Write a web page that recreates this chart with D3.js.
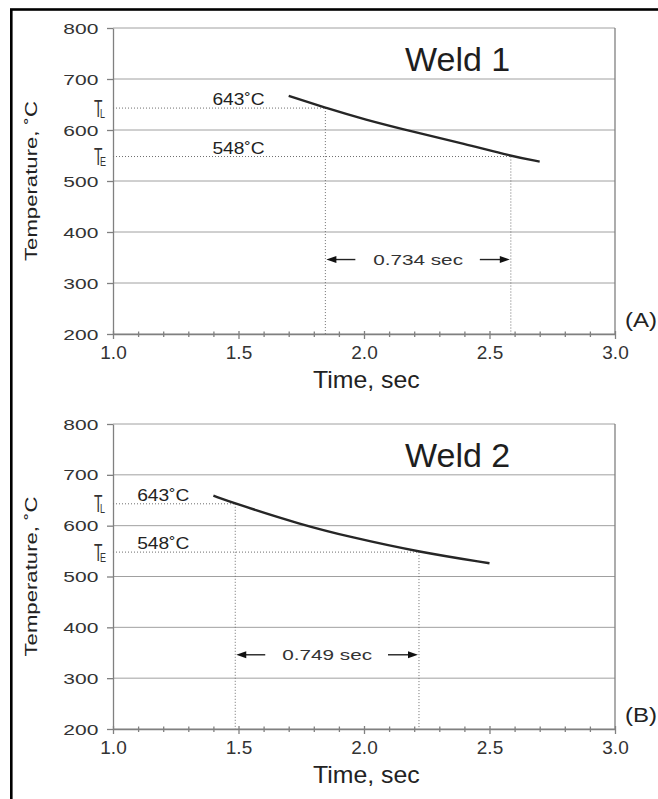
<!DOCTYPE html>
<html><head><meta charset="utf-8">
<script src="https://cdn.jsdelivr.net/npm/d3@7"></script>
<style>
body{margin:0;background:#fff}
svg{display:block}
text{font-family:"Liberation Sans",Arial,Helvetica,sans-serif;fill:#222}
</style>
</head><body>
<svg id="c" width="658" height="799"></svg>
<script>
// ---- data ----
const xTicks = [1.0, 1.5, 2.0, 2.5, 3.0];
const xTickLabels = ["1.0", "1.5", "2.0", "2.5", "3.0"];
const xMinorTicks = [1.1,1.2,1.3,1.4,1.6,1.7,1.8,1.9,2.1,2.2,2.3,2.4,2.6,2.7,2.8,2.9];
const yTicks = [200, 300, 400, 500, 600, 700, 800];
const liquidusT = 643;   // T_L
const eutecticT = 548;   // T_E
const arrowTemp = 346;
const weld1Time = [1.70, 1.85, 2.00, 2.20, 2.40, 2.585, 2.70];
const weld1Temp = [667, 643, 621, 596, 573, 549, 538];
const weld2Time = [1.40, 1.49, 1.75, 1.95, 2.22, 2.50];
const weld2Temp = [659, 643, 602, 577, 548, 526];
const weld1Cross = [1.846, 2.585];
const weld2Cross = [1.487, 2.219];
const panelTitles = ["Weld 1", "Weld 2"];
const panelTags = ["(A)", "(B)"];
const intervalLabels = ["0.734 sec", "0.749 sec"];
const tempLabels = ["643\u02DAC", "548\u02DAC"];

// ---- layout ----
const svg = d3.select("#c");
const X0 = 113, X1 = 615;
const panels = [
  {top: 28, bottom: 334, time: weld1Time, temp: weld1Temp, cross: weld1Cross},
  {top: 424, bottom: 729, time: weld2Time, temp: weld2Temp, cross: weld2Cross}
];

// frame
svg.append("rect").attr("x", 11.3).attr("y", 9.5).attr("width", 800).attr("height", 900)
  .attr("fill", "none").attr("stroke", "#000").attr("stroke-width", 2.6);

function txt(g, x, y, s, o) {
  return g.append("text")
    .attr("transform", `translate(${x},${y}) rotate(${o.rot || 0}) scale(${o.sx || 1},${o.sy || 1})`)
    .attr("font-size", o.size)
    .attr("text-anchor", o.anchor || "start")
    .style("fill", o.fill || "#222")
    .text(s);
}

const x = d3.scaleLinear().domain([1, 3]).range([X0, X1]);

panels.forEach((p, i) => {
  const g = svg.append("g");
  const y = d3.scaleLinear().domain([200, 800]).range([p.bottom, p.top]);

  // horizontal gridlines
  g.selectAll(".grid").data(yTicks).join("line")
    .attr("x1", X0).attr("x2", X1)
    .attr("y1", d => y(d)).attr("y2", d => y(d))
    .attr("stroke", "#a0a0a0").attr("stroke-width", 1);
  // right border
  g.append("line").attr("x1", X1).attr("x2", X1).attr("y1", p.top).attr("y2", p.bottom)
    .attr("stroke", "#808080").attr("stroke-width", 1.3);

  // y axis
  const ya = g.append("g").attr("transform", `translate(${X0},0)`)
    .call(d3.axisLeft(y).tickValues(yTicks).tickSize(6).tickSizeOuter(0).tickFormat(d3.format("d")));
  ya.select(".domain").attr("stroke", "#808080").attr("stroke-width", 1.3);
  ya.selectAll(".tick line").attr("stroke", "#808080").attr("stroke-width", 1.3);
  ya.selectAll(".tick text")
    .attr("x", -9.8).attr("dy", "0.36em")
    .attr("transform", "scale(1.5,1)")
    .attr("font-size", 14).attr("font-family", null).style("fill", "#333");

  // x axis minor ticks
  const xm = g.append("g").attr("transform", `translate(0,${p.bottom})`)
    .call(d3.axisBottom(x).tickValues(xMinorTicks).tickSize(3).tickSizeOuter(0).tickFormat(""));
  xm.select(".domain").attr("stroke", "#808080").attr("stroke-width", 1.3);
  xm.selectAll(".tick line").attr("y1", -2.5).attr("stroke", "#808080").attr("stroke-width", 1.3);
  // x axis major ticks
  const xa = g.append("g").attr("transform", `translate(0,${p.bottom})`)
    .call(d3.axisBottom(x).tickValues(xTicks).tickSize(5).tickSizeOuter(0)
      .tickFormat((d, k) => xTickLabels[k]));
  xa.select(".domain").remove();
  xa.selectAll(".tick line").attr("y1", -3).attr("stroke", "#808080").attr("stroke-width", 1.3);
  xa.selectAll(".tick text").attr("y", 12).attr("dy", "0.71em")
    .attr("font-size", 19).attr("font-family", null).style("fill", "#333");

  // dotted guide lines
  const marks = [liquidusT, eutecticT];
  marks.forEach((T, k) => {
    const cx = x(p.cross[k]);
    g.append("line").attr("x1", X0).attr("x2", cx).attr("y1", y(T)).attr("y2", y(T))
      .attr("stroke", "#6e6e6e").attr("stroke-width", 1).attr("stroke-dasharray", "1,2");
    g.append("line").attr("x1", cx).attr("x2", cx).attr("y1", y(T)).attr("y2", p.bottom)
      .attr("stroke", "#6e6e6e").attr("stroke-width", 1).attr("stroke-dasharray", "1,2");
  });

  // curve
  const pts = p.time.map((t, k) => [t, p.temp[k]]);
  g.append("path").datum(pts)
    .attr("d", d3.line().x(d => x(d[0])).y(d => y(d[1])).curve(d3.curveBasis))
    .attr("fill", "none").attr("stroke", "#262626").attr("stroke-width", 2.4);

  // temperature labels
  const labEnd = x(p.time[0]) - 24;
  marks.forEach((T, k) => {
    txt(g, labEnd, y(T) - 3, tempLabels[k], {size: 16, sx: 1.2, anchor: "end"});
  });

  // T_L, T_E symbols
  const subs = ["L", "E"];
  marks.forEach((T, k) => {
    txt(g, 94, y(T) + 8.5, "T", {size: 23, sx: 0.6, fill: "#333"});
    txt(g, 100, y(T) + 9.5, subs[k], {size: 12, sx: 0.75, fill: "#333"});
  });

  // interval arrows
  const ay = y(arrowTemp);
  const xa1 = x(p.cross[0]), xa2 = x(p.cross[1]);
  g.append("line").attr("x1", xa1 + 8).attr("x2", xa1 + 30).attr("y1", ay).attr("y2", ay)
    .attr("stroke", "#222").attr("stroke-width", 1.4);
  g.append("path").attr("d", `M${xa1 + 1},${ay} L${xa1 + 11},${ay - 3.5} L${xa1 + 11},${ay + 3.5} Z`).attr("fill", "#111");
  g.append("line").attr("x1", xa2 - 31).attr("x2", xa2 - 8).attr("y1", ay).attr("y2", ay)
    .attr("stroke", "#222").attr("stroke-width", 1.4);
  g.append("path").attr("d", `M${xa2 - 1},${ay} L${xa2 - 11},${ay - 3.5} L${xa2 - 11},${ay + 3.5} Z`).attr("fill", "#111");
  txt(g, (xa1 + xa2) / 2, ay + 5, intervalLabels[i], {size: 14, sx: 1.48, anchor: "middle", fill: "#333"});

  // titles
  txt(g, 405, p.top + 43, panelTitles[i], {size: 34, fill: "#1e1e1e"});
  txt(g, 625, p.bottom - 7, panelTags[i], {size: 20, sx: 1.2});

  // axis titles
  txt(g, 313, p.bottom + 54, "Time, sec", {size: 23, sx: 1.08});
  txt(g, 37, (p.top + p.bottom) / 2, "Temperature, \u02DAC", {size: 16, sx: 1.385, rot: -90, anchor: "middle"});
});
</script>
</body></html>
